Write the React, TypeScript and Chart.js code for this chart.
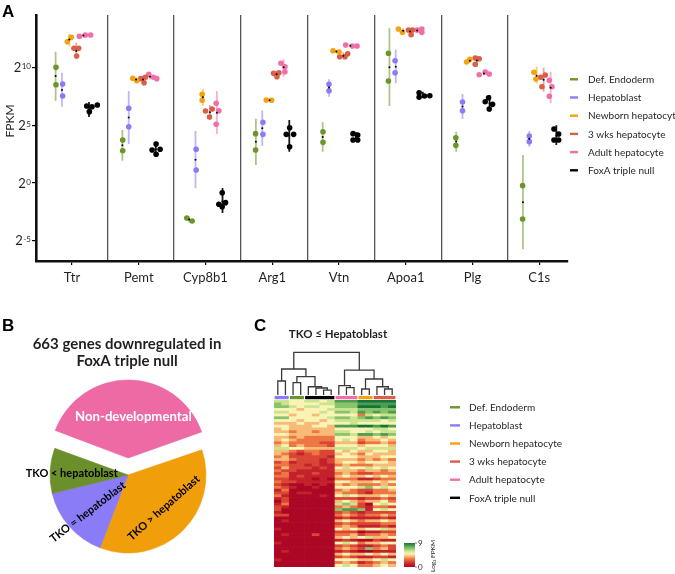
import React, { useEffect, useRef } from 'react';
import { Chart, registerables } from 'chart.js';

Chart.register(...registerables);

const FONT = 'Lato, "Open Sans", "DejaVu Sans", sans-serif';
const HEAD_FONT = '"Liberation Sans", Arial, sans-serif';
const INK = '#231F20';
Chart.defaults.font.family = FONT;
Chart.defaults.color = INK;

// ================= Panel A data =================
const genes = ['Ttr', 'Pemt', 'Cyp8b1', 'Arg1', 'Vtn', 'Apoa1', 'Plg', 'C1s'];
const groupNames = ['Def. Endoderm', 'Hepatoblast', 'Newborn hepatocyte', '3 wks hepatocyte', 'Adult hepatocyte', 'FoxA triple null'];
const groupColors = ['#6B9629', '#8A7CF6', '#F2A30F', '#D95F48', '#F06FA6', '#000000'];
const yTickExponents = [-5, 0, 5, 10];

// log2(FPKM) of each replicate, one row per gene
const defEndoderm = [[10.0, 8.5], [3.72, 2.8], [-3.01, -3.27], [4.27, 2.86], [4.44, 3.52], [11.21, 8.82], [3.92, 3.26], [-0.22, -3.1]];
const hepatoblast = [[8.56, 7.52], [6.46, 4.87], [2.92, 1.13], [5.25, 4.21], [8.53, 7.98], [10.57, 9.53], [7.0, 6.25], [4.06, 3.58]];
const newborn = [[12.21, 12.59], [9.05, 8.84], [7.67, 7.15], [7.18, 7.15], [11.43, 11.32], [13.31, 13.02], [10.46, 10.69], [9.57, 8.99]];
const wks3 = [[11.64, 11.64, 10.98], [9.02, 9.14, 8.67], [6.23, 5.71, 6.4], [9.48, 9.19, 9.53], [10.92, 10.92, 11.17], [13.22, 13.22, 12.82], [10.8, 10.74, 10.26], [9.14, 9.34, 8.32]];
const adult = [[12.68, 12.79, 12.79], [9.4, 9.14, 9.02], [6.89, 6.25, 5.08], [10.35, 10.05, 9.62], [11.93, 11.84, 11.84], [13.22, 13.31, 13.02], [9.36, 9.59, 9.42], [8.88, 8.32, 7.5]];
const tripleNull = [[6.66, 6.6, 6.74, 6.17], [3.38, 2.86, 2.92, 2.49], [-0.83, -1.83, -1.69, -2.04], [4.78, 4.21, 4.21, 3.14], [4.27, 4.15, 3.72, 3.72], [7.81, 7.41, 7.52, 7.55], [7.37, 7.03, 6.8, 6.4], [4.67, 4.24, 3.72, 3.72]];

// horizontal jitter of each replicate (category units)
const defEndodermJitter = [[-0.24, -0.24], [-0.24, -0.24], [-0.28, -0.2], [-0.25, -0.25], [-0.24, -0.24], [-0.26, -0.26], [-0.25, -0.25], [-0.25, -0.25]];
const hepatoblastJitter = [[-0.14, -0.14], [-0.15, -0.15], [-0.14, -0.14], [-0.14, -0.14], [-0.15, -0.15], [-0.16, -0.16], [-0.15, -0.15], [-0.15, -0.15]];
const newbornJitter = [[-0.07, -0.01], [-0.09, -0.03], [-0.05, -0.05], [-0.09, -0.01], [-0.09, 0.0], [-0.11, -0.05], [-0.09, -0.04], [-0.08, -0.05]];
const wks3Jitter = [[0.03, 0.1, 0.07], [0.03, 0.1, 0.08], [0.0, 0.06, 0.1], [0.02, 0.07, 0.1], [0.01, 0.09, 0.13], [0.04, 0.1, 0.08], [0.04, 0.1, 0.04], [0.02, 0.09, 0.04]];
const adultJitter = [[0.11, 0.2, 0.28], [0.15, 0.22, 0.27], [0.16, 0.2, 0.16], [0.13, 0.19, 0.19], [0.1, 0.2, 0.27], [0.17, 0.24, 0.24], [0.1, 0.19, 0.25], [0.15, 0.19, 0.15]];
const tripleNullJitter = [[0.22, 0.3, 0.38, 0.26], [0.26, 0.2, 0.32, 0.26], [0.25, 0.2, 0.3, 0.25], [0.26, 0.21, 0.32, 0.26], [0.21, 0.28, 0.21, 0.28], [0.2, 0.2, 0.28, 0.36], [0.24, 0.19, 0.3, 0.25], [0.22, 0.29, 0.22, 0.29]];

// error bar [low, high] in log2(FPKM)
const defEndodermErr = [[7.12, 11.35], [1.93, 4.59], [-3.4, -2.9], [1.56, 5.56], [2.71, 5.25], [6.66, 13.37], [2.71, 4.44], [-5.72, 2.43]];
const hepatoblastErr = [[6.6, 9.53], [3.38, 7.95], [-0.45, 4.5], [3.2, 6.28], [7.46, 8.96], [8.62, 11.55], [5.54, 7.69], [3.14, 4.5]];
const newbornErr = [[11.83, 12.87], [8.75, 9.15], [6.66, 8.13], [7.08, 7.25], [11.22, 11.5], [12.95, 13.4], [10.38, 10.78], [8.62, 10.05]];
const wks3Err = [[10.69, 12.12], [8.55, 9.3], [5.45, 6.75], [9.05, 9.7], [10.8, 11.3], [12.7, 13.4], [10.05, 11.0], [7.89, 9.97]];
const adultErr = [[12.55, 12.9], [8.95, 9.5], [4.24, 7.95], [9.19, 10.69], [11.75, 12.0], [12.95, 13.4], [9.3, 9.65], [6.89, 9.62]];
const tripleNullErr = [[5.7, 7.0], [2.3, 3.6], [-2.58, -0.42], [2.71, 5.45], [3.6, 4.4], [7.35, 7.9], [6.2, 7.6], [3.3, 5.0]];

// ================= Panel B data =================
const pieTitle = ['663 genes downregulated in', 'FoxA triple null'];
const pieLabels = ['Non-developmental', 'TKO > hepatoblast', 'TKO = hepatoblast', 'TKO < hepatoblast'];
const pieCounts = [260, 239, 102, 62];
const pieColors = ['#EE6AA4', '#F19E0B', '#8A7CF6', '#6B8F2A'];

// ================= Panel C data =================
const heatTitle = 'TKO \u2264 Hepatoblast';
// group index of each heatmap column (order of groupNames)
const sampleGroup = [1, 1, 0, 0, 5, 5, 5, 5, 4, 4, 4, 2, 2, 3, 3, 3];
// log2 FPKM (0-9) per gene row, one digit per column
const heatRows = [
  '6655665688899999', '7655556677788888', '7765665577799989', '5554555666677777',
  '6655556577687878', '5545545555536566', '7755555677678787', '5554554566666656',
  '4445445555655555', '5544455488899898', '4544444455555665', '4434434466556566',
  '5544444477688787', '4434333355544545', '4543333356534454', '3433332244423343',
  '4534333255545554', '6655444466656666', '4432332254544554', '4321232245435444',
  '3422222155544455', '4432221244434343', '2312221245545554', '3322121134333444',
  '2422212156556565', '3221111144434434', '2311121134322333', '3312111145445454',
  '2211101033311233', '3221111155444545', '2100101043433343', '3210010055567565',
  '1300000034322334', '2201100043321333', '3100001056544454', '1200000022212232',
  '0200000045434453', '1300000067620565', '2100000034321332', '2000000078871565',
  '1000000023212222', '2200000034323343', '0000000012111121', '0100000045434454',
  '0000000023222233', '0000000034311121', '1000000054545564', '0000000022201122',
  '0100020033423343', '0000000045456445', '0000000012100211', '1000000056534455',
  '0000000023211232', '0000000034327342', '0100000012100111', '0000000045445454',
  '0000000023211221', '1000000055544565', '0000000034312343', '0000000056533454',
];
// dendrogram merges: [nodeA, nodeB, height]; leaves are 0-15, merges become 16, 17, ...
const dendroMerges = [
  [0, 1, 3.28], [2, 3, 2.88], [6, 7, 1.17], [5, 18, 1.64], [4, 19, 1.94], [17, 20, 4.29], [16, 21, 6.09],
  [9, 10, 1.71], [8, 23, 2.18], [11, 12, 1.41], [14, 15, 1.41], [13, 26, 1.94], [25, 27, 3.75], [24, 28, 5.85],
  [22, 29, 10],
];
const colorbarTicks = [0, 9];

// ================= helpers =================
const groupDodge = [-0.245, -0.15, -0.04, 0.065, 0.17, 0.255];

function withAlpha(hex: string, a: number) {
  const n = parseInt(hex.slice(1), 16);
  return `rgba(${(n >> 16) & 255},${(n >> 8) & 255},${n & 255},${a})`;
}

const heatStops: [number, number[]][] = [
  [0, [172, 8, 38]], [1.5, [206, 46, 45]], [3, [238, 118, 68]], [4.2, [251, 200, 128]],
  [5, [250, 243, 182]], [6, [203, 228, 142]], [7.5, [104, 178, 92]], [9, [22, 116, 56]],
];
function heatColor(v: number) {
  for (let i = 1; i < heatStops.length; i++) {
    const [v1, c1] = heatStops[i];
    const [v0, c0] = heatStops[i - 1];
    if (v <= v1) {
      const t = (v - v0) / (v1 - v0);
      const c = c0.map((x, k) => Math.round(x + (c1[k] - x) * t));
      return `rgb(${c[0]},${c[1]},${c[2]})`;
    }
  }
  const c = heatStops[heatStops.length - 1][1];
  return `rgb(${c[0]},${c[1]},${c[2]})`;
}

function drawLegend(ctx: CanvasRenderingContext2D, x0: number, y0: number, dy: number, lineLen: number, textGap: number) {
  groupNames.forEach((name, i) => {
    const y = y0 + i * dy;
    ctx.strokeStyle = groupColors[i];
    ctx.lineWidth = 2.4;
    ctx.beginPath();
    ctx.moveTo(x0, y);
    ctx.lineTo(x0 + lineLen, y);
    ctx.stroke();
    ctx.fillStyle = INK;
    ctx.font = `10px ${FONT}`;
    ctx.textAlign = 'left';
    ctx.textBaseline = 'middle';
    ctx.fillText(name, x0 + lineLen + textGap, y + 0.5);
  });
}

// ================= Panel A =================
function makePanelA(): any {
  const groupData: [number[][], number[][], number[][]][] = [
    [defEndoderm, defEndodermJitter, defEndodermErr],
    [hepatoblast, hepatoblastJitter, hepatoblastErr],
    [newborn, newbornJitter, newbornErr],
    [wks3, wks3Jitter, wks3Err],
    [adult, adultJitter, adultErr],
    [tripleNull, tripleNullJitter, tripleNullErr],
  ];
  const datasets: any[] = [];
  groupData.forEach(([vals, jit, err], g) => {
    const col = groupColors[g];
    const pts: any[] = [];
    vals.forEach((row, gi) => row.forEach((v, k) => pts.push({ x: gi + jit[gi][k], y: v })));
    datasets.push({ label: groupNames[g], data: pts, backgroundColor: col, borderColor: col, pointRadius: 2.8, borderWidth: 0, order: 2 });
    const bars: any[] = [];
    err.forEach(([lo, hi], gi) => {
      const x = gi + groupDodge[g];
      bars.push({ x, y: lo }, { x, y: hi }, { x, y: null });
    });
    datasets.push({ label: groupNames[g] + ' range', data: bars, showLine: true, spanGaps: false, borderColor: withAlpha(col, g === 5 ? 0.9 : 0.55), borderWidth: 1.8, pointRadius: 0, order: 3 });
    const means = vals.map((row, gi) => ({ x: gi + groupDodge[g], y: row.reduce((a, b) => a + b, 0) / row.length }));
    datasets.push({ label: groupNames[g] + ' mean', data: means, backgroundColor: '#000', borderWidth: 0, pointRadius: 1, order: 1 });
  });

  const xmin = -0.539, xmax = 7.43;
  const plugin = {
    id: 'panelAText',
    afterDraw(chart: any) {
      const ctx: CanvasRenderingContext2D = chart.ctx;
      const y = chart.scales.y;
      ctx.save();
      ctx.fillStyle = '#000';
      ctx.font = `bold 17px ${HEAD_FONT}`;
      ctx.textAlign = 'left';
      ctx.textBaseline = 'alphabetic';
      ctx.fillText('A', 2, 17);
      ctx.fillStyle = INK;
      yTickExponents.forEach((e) => {
        const py = y.getPixelForValue(e);
        const expStr = e < 0 ? '-' + Math.abs(e) : String(e);
        ctx.font = `8px ${FONT}`;
        const ew = ctx.measureText(expStr).width;
        const right = 31;
        ctx.textAlign = 'left';
        ctx.fillText(expStr, right - ew, py + 1.5);
        ctx.font = `13px ${FONT}`;
        const bw = ctx.measureText('2').width;
        ctx.fillText('2', right - ew - bw - 0.5, py + 4.5);
      });
      ctx.save();
      ctx.translate(10, 121);
      ctx.rotate(-Math.PI / 2);
      ctx.textAlign = 'center';
      ctx.textBaseline = 'middle';
      ctx.font = `12px ${FONT}`;
      ctx.fillText('FPKM', 0, 0);
      ctx.restore();
      drawLegend(ctx, 570, 79.3, 18.2, 8, 10);
      ctx.restore();
    },
  };

  return {
    type: 'scatter',
    data: { datasets },
    options: {
      responsive: false,
      animation: false,
      devicePixelRatio: 1,
      events: [],
      layout: { padding: { left: 0, right: 107, top: 15, bottom: 0 } },
      plugins: { legend: { display: false }, tooltip: { enabled: false } },
      scales: {
        x: {
          type: 'linear', min: xmin, max: xmax,
          afterBuildTicks: (s: any) => { s.ticks = genes.map((_, i) => ({ value: i })); },
          ticks: { callback: (v: any) => genes[Math.round(v)], font: { family: FONT, size: 13 }, color: INK, padding: 5, autoSkip: false, maxRotation: 0 },
          grid: { drawOnChartArea: false, drawTicks: true, tickLength: 4, color: '#000', lineWidth: 1.2 },
          border: { display: true, color: '#111', width: 2.6 },
          afterFit: (s: any) => { s.height = 34; },
        },
        sep: {
          type: 'linear', position: 'top', min: xmin, max: xmax,
          afterBuildTicks: (s: any) => { s.ticks = genes.slice(1).map((_, i) => ({ value: i + 0.53 })); },
          ticks: { display: false },
          grid: { drawOnChartArea: true, drawTicks: false, color: '#555', lineWidth: 1.3 },
          border: { display: false },
          afterFit: (s: any) => { s.height = 0; },
        },
        y: {
          type: 'linear', min: -6.73, max: 14.52,
          afterBuildTicks: (s: any) => { s.ticks = yTickExponents.map((v) => ({ value: v })); },
          ticks: { display: false },
          grid: { drawOnChartArea: false, drawTicks: true, tickLength: 4, color: '#000', lineWidth: 1.2 },
          border: { display: true, color: '#111', width: 2.6 },
          afterFit: (s: any) => { s.width = 36; },
        },
      },
    },
    plugins: [plugin],
  };
}

// ================= Panel B =================
const PIE_OFFSET = 68; // Chart.js translates an offset arc by offset/4
const pieLabelPlacement = [
  // [radius px, angle shift deg, rotation deg, size, colour]
  [41.8, 6.5, 0, 13.2, '#FFFFFF'],
  [48.6, -3.4, -41.6, 11, '#000000'],
  [54.7, -1.3, -37.6, 11, '#000000'],
  [56.3, -1.5, 0, 11, '#000000'],
];

function makePanelB(): any {
  const fix = {
    id: 'pieRadiusFix',
    afterDatasetsUpdate(chart: any) {
      chart.getDatasetMeta(0).data.forEach((arc: any) => {
        const off = (arc.options?.offset || 0) / 4;
        if (!off) return;
        const circ = arc.endAngle - arc.startAngle;
        arc.outerRadius -= off * (1 - Math.sin(Math.min(Math.PI, circ)));
      });
    },
  };
  const text = {
    id: 'pieText',
    afterDraw(chart: any) {
      const ctx: CanvasRenderingContext2D = chart.ctx;
      ctx.save();
      ctx.fillStyle = '#000';
      ctx.font = `bold 17px ${HEAD_FONT}`;
      ctx.textAlign = 'left';
      ctx.textBaseline = 'alphabetic';
      ctx.fillText('B', 2, 331 - 295);
      ctx.fillStyle = INK;
      ctx.font = `bold 15px ${FONT}`;
      ctx.textAlign = 'center';
      ctx.fillText(pieTitle[0], 127, 349 - 295);
      ctx.fillText(pieTitle[1], 127, 366 - 295);
      chart.getDatasetMeta(0).data.forEach((arc: any, i: number) => {
        const mid = (arc.startAngle + arc.endAngle) / 2;
        const off = (arc.options?.offset || 0) / 4;
        const cx = arc.x + Math.cos(mid) * off;
        const cy = arc.y + Math.sin(mid) * off;
        const [r, shift, rot, size, color] = pieLabelPlacement[i] as any;
        const a = mid + (shift * Math.PI) / 180;
        ctx.save();
        ctx.translate(cx + Math.cos(a) * r, cy + Math.sin(a) * r);
        ctx.rotate((rot * Math.PI) / 180);
        ctx.fillStyle = color;
        ctx.font = `bold ${size}px ${FONT}`;
        ctx.textAlign = 'center';
        ctx.textBaseline = 'middle';
        ctx.fillText(pieLabels[i], 0, 0);
        ctx.restore();
      });
      ctx.restore();
    },
  };
  return {
    type: 'pie',
    data: {
      labels: pieLabels,
      datasets: [{ data: pieCounts, backgroundColor: pieColors, borderColor: pieColors, borderWidth: 0.6, offset: [PIE_OFFSET, 0, 0, 0] }],
    },
    options: {
      responsive: false,
      animation: false,
      devicePixelRatio: 1,
      events: [],
      rotation: -70,
      radius: 78,
      layout: { padding: { left: 6, right: 0, top: 100, bottom: 19 } },
      plugins: { legend: { display: false }, tooltip: { enabled: false } },
    },
    plugins: [fix, text],
  };
}

// ================= Panel C heatmap =================
function makeHeatmap(): any {
  const n = heatRows.length;
  const datasets = heatRows
    .map((row, r) => ({ row, r }))
    .reverse()
    .map(({ row, r }) => ({
      label: 'gene ' + (r + 1),
      data: row.split('').map(() => 1),
      backgroundColor: row.split('').map((d) => heatColor(Number(d))),
      borderWidth: 0,
      barPercentage: 1,
      categoryPercentage: 1,
    }));
  const text = {
    id: 'heatText',
    afterDraw(chart: any) {
      const ctx: CanvasRenderingContext2D = chart.ctx;
      ctx.save();
      ctx.translate(-250, -295);
      ctx.fillStyle = '#000';
      ctx.font = `bold 17px ${HEAD_FONT}`;
      ctx.textAlign = 'left';
      ctx.textBaseline = 'alphabetic';
      ctx.fillText('C', 254, 331);
      ctx.fillStyle = INK;
      ctx.font = `bold 11.5px ${FONT}`;
      ctx.textAlign = 'center';
      ctx.textBaseline = 'middle';
      ctx.fillText(heatTitle, 338, 334);
      drawLegend(ctx, 450, 407.3, 18.1, 10, 9);
      // colour bar
      const x0 = 404, x1 = 415, yTop = 543, yBot = 567;
      const grad = ctx.createLinearGradient(0, yBot, 0, yTop);
      heatStops.forEach(([v]) => grad.addColorStop(v / 9, heatColor(v)));
      ctx.fillStyle = grad;
      ctx.fillRect(x0, yTop, x1 - x0, yBot - yTop);
      ctx.strokeStyle = '#555';
      ctx.lineWidth = 0.8;
      ctx.fillStyle = INK;
      ctx.font = `8px ${FONT}`;
      ctx.textAlign = 'left';
      colorbarTicks.forEach((t) => {
        const py = yBot - ((yBot - yTop) * t) / 9;
        ctx.beginPath();
        ctx.moveTo(x1, py);
        ctx.lineTo(x1 + 2, py);
        ctx.stroke();
        ctx.fillText(String(t), x1 + 3, py);
      });
      ctx.save();
      ctx.translate(433, 556);
      ctx.rotate(-Math.PI / 2);
      ctx.textAlign = 'center';
      ctx.font = `6.5px ${FONT}`;
      ctx.fillText('Log\u2082 FPKM', 0, 0);
      ctx.restore();
      ctx.restore();
    },
  };
  return {
    type: 'bar',
    data: { labels: sampleGroup.map((_, i) => 'S' + (i + 1)), datasets },
    options: {
      responsive: false,
      animation: false,
      devicePixelRatio: 1,
      events: [],
      layout: { padding: { left: 24, right: 279, top: 105, bottom: 7 } },
      plugins: { legend: { display: false }, tooltip: { enabled: false } },
      scales: {
        x: { display: false, stacked: true },
        y: { display: false, stacked: true, min: 0, max: n },
      },
    },
    plugins: [text],
  };
}

// ================= Panel C dendrogram =================
function makeDendro(): any {
  const nx: number[] = sampleGroup.map((_, i) => i);
  const nh: number[] = sampleGroup.map(() => 0);
  const datasets: any[] = [];
  dendroMerges.forEach(([a, b, h]) => {
    datasets.push({
      data: [{ x: nx[a], y: nh[a] }, { x: nx[a], y: h }, { x: nx[b], y: h }, { x: nx[b], y: nh[b] }],
      showLine: true, borderColor: '#3a3a3a', borderWidth: 1.3, pointRadius: 0, clip: false,
    });
    nx.push((nx[a] + nx[b]) / 2);
    nh.push(h);
  });
  groupNames.forEach((_, g) => {
    const cols = sampleGroup.map((s, i) => (s === g ? i : -1)).filter((i) => i >= 0);
    datasets.push({
      data: [{ x: Math.min(...cols) - 0.42, y: -0.6 }, { x: Math.max(...cols) + 0.42, y: -0.6 }],
      showLine: true, borderColor: groupColors[g], borderWidth: 3.3, borderCapStyle: 'butt', pointRadius: 0, clip: false,
    });
  });
  return {
    type: 'scatter',
    data: { datasets },
    options: {
      responsive: false,
      animation: false,
      devicePixelRatio: 1,
      events: [],
      layout: { padding: { left: 4, right: 4, top: 10.6, bottom: 2.7 } },
      plugins: { legend: { display: false }, tooltip: { enabled: false } },
      scales: {
        x: { type: 'linear', display: false, min: -0.5, max: sampleGroup.length - 0.5 },
        y: { type: 'linear', display: false, min: -1, max: 10.4 },
      },
    },
  };
}

function ChartBox({ left, top, width, height, make }: { left: number; top: number; width: number; height: number; make: () => any }) {
  const ref = useRef<HTMLCanvasElement>(null);
  useEffect(() => {
    const chart = new Chart(ref.current as HTMLCanvasElement, make());
    return () => chart.destroy();
  }, []);
  return (
    <div style={{ position: 'absolute', left, top, width, height }}>
      <canvas ref={ref} width={width} height={height} style={{ width, height, display: 'block' }} />
    </div>
  );
}

export default function App() {
  return (
    <div style={{ position: 'absolute', left: 0, top: 0, width: 675, height: 574, background: '#fff', overflow: 'hidden' }}>
      <ChartBox left={0} top={0} width={675} height={295} make={makePanelA} />
      <ChartBox left={0} top={295} width={250} height={279} make={makePanelB} />
      <ChartBox left={250} top={295} width={425} height={279} make={makeHeatmap} />
      <ChartBox left={270} top={340} width={130} height={62} make={makeDendro} />
    </div>
  );
}
